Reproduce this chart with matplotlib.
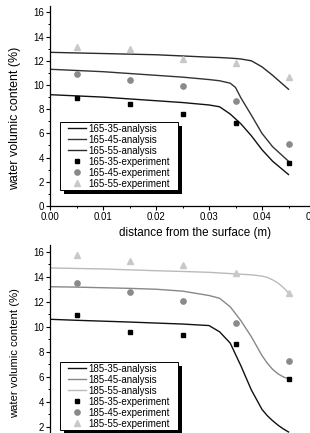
import matplotlib
matplotlib.use("Agg")
import matplotlib.pyplot as plt
from matplotlib.ticker import MultipleLocator
from matplotlib.patches import Rectangle

plt.rcParams['font.family'] = ['Liberation Sans', 'DejaVu Sans']

# ---------------- data: top panel (165) ----------------
x_exp = [0.005, 0.015, 0.025, 0.035, 0.045]
exp_165_35 = [8.95, 8.40, 7.63, 6.83, 3.58]
exp_165_45 = [10.94, 10.39, 9.89, 8.65, 5.10]
exp_165_55 = [13.10, 12.95, 12.15, 11.80, 10.63]

x_ana = [0.0, 0.005, 0.01, 0.015, 0.02, 0.025, 0.03, 0.032, 0.034, 0.035,
         0.036, 0.038, 0.040, 0.042, 0.045]
ana_165_35 = [9.20, 9.10, 9.00, 8.85, 8.70, 8.55, 8.35, 8.20, 7.60, 7.20,
              6.80, 5.80, 4.65, 3.70, 2.60]
ana_165_45 = [11.30, 11.20, 11.10, 10.95, 10.80, 10.65, 10.45, 10.35, 10.15, 9.80,
              8.95, 7.50, 6.00, 4.90, 3.70]
ana_165_55 = [12.70, 12.65, 12.60, 12.55, 12.50, 12.40, 12.30, 12.27, 12.22, 12.19,
              12.15, 12.00, 11.50, 10.80, 9.65]

# ---------------- data: bottom panel (185) ----------------
exp_185_35 = [10.94, 9.56, 9.37, 8.63, 5.80]
exp_185_45 = [13.50, 12.76, 12.09, 10.28, 7.27]
exp_185_55 = [15.74, 15.28, 14.94, 14.32, 12.73]

x_ana2 = [0.0, 0.005, 0.01, 0.015, 0.02, 0.025, 0.03, 0.032, 0.034, 0.036,
          0.038, 0.040, 0.041, 0.042, 0.043, 0.044, 0.045]
ana_185_35 = [10.60, 10.52, 10.45, 10.38, 10.30, 10.22, 10.10, 9.60, 8.70, 6.90,
              4.95, 3.40, 2.90, 2.50, 2.15, 1.85, 1.60]
ana_185_45 = [13.20, 13.17, 13.12, 13.07, 13.00, 12.85, 12.50, 12.28, 11.60, 10.50,
              9.20, 7.70, 7.10, 6.60, 6.25, 6.00, 5.85]
ana_185_55 = [14.70, 14.66, 14.62, 14.55, 14.48, 14.42, 14.35, 14.30, 14.25, 14.20,
              14.15, 14.05, 13.95, 13.75, 13.50, 13.15, 12.70]

xticks = [0.00, 0.01, 0.02, 0.03, 0.04, 0.05]
xticklabels = ['0.00', '0.01', '0.02', '0.03', '0.04', '0.05']
yticks = [0, 2, 4, 6, 8, 10, 12, 14, 16]

W, H = 310, 433
fig = plt.figure(figsize=(W / 100, H / 100), dpi=100)


def fx(px):
    return px / W


def fy(py):
    return 1 - py / H


def make_axes(left_px, bottom_px, top_px):
    ax = fig.add_axes([left_px / W, (H - bottom_px) / H, 265 / W,
                       (bottom_px - top_px) / H])
    ax.set_xlim(0, 0.05)
    ax.set_ylim(0, 16.5)
    for s in ['top', 'right']:
        ax.spines[s].set_visible(False)
    for s in ['left', 'bottom']:
        ax.spines[s].set_linewidth(0.9)
    ax.set_xticks(xticks)
    ax.set_xticklabels(xticklabels)
    ax.set_yticks(yticks)
    ax.xaxis.set_minor_locator(MultipleLocator(0.005))
    ax.yaxis.set_minor_locator(MultipleLocator(1))
    ax.tick_params(which='major', direction='out', length=3, width=0.8,
                   labelsize=7, pad=1.5)
    ax.tick_params(which='minor', direction='out', length=1.6, width=0.7)
    ax.patch.set_alpha(0)
    return ax


def legend(ax, frame_top_px):
    # frame + shadow drawn by hand (Origin-style)
    x0, x1 = 59.5, 177.7
    y0, y1 = frame_top_px, frame_top_px + 67.8
    shadow = Rectangle((fx(x0 + 4), fy(y1 + 4)), fx(x1 - x0), (y1 - y0) / H,
                       transform=fig.transFigure, facecolor='black',
                       edgecolor='none', zorder=4.4, clip_on=False)
    frame = Rectangle((fx(x0), fy(y1)), fx(x1 - x0), (y1 - y0) / H,
                      transform=fig.transFigure, facecolor='white',
                      edgecolor='black', lw=0.7, zorder=4.5, clip_on=False)
    ax.add_patch(shadow)
    ax.add_patch(frame)
    leg = ax.legend(loc='upper left',
                    bbox_to_anchor=(fx(68.3), fy(frame_top_px + 2.0)),
                    bbox_transform=fig.transFigure, borderaxespad=0,
                    fontsize=7, frameon=False,
                    handlelength=1.86, handletextpad=0.15, labelspacing=0.1,
                    borderpad=0, numpoints=1)
    leg.set_zorder(5)
    return leg


# ---------------- top panel ----------------
ax1 = make_axes(50, 206, 206 - 16.5 * 12.1)
ax1.plot(x_ana, ana_165_35, color='#111111', lw=1.0, label='165-35-analysis')
ax1.plot(x_ana, ana_165_45, color='#333333', lw=1.0, label='165-45-analysis')
ax1.plot(x_ana, ana_165_55, color='#2a2a2a', lw=1.0, label='165-55-analysis')
ax1.plot(x_exp, exp_165_35, ls='none', marker='s', ms=3.4, color='black',
         label='165-35-experiment')
ax1.plot(x_exp, exp_165_45, ls='none', marker='o', ms=3.8, color='#8a8a8a',
         label='165-45-experiment')
ax1.plot(x_exp, exp_165_55, ls='none', marker='^', ms=4.5, color='#c8c8c8',
         label='165-55-experiment')
ax1.set_xlabel('distance from the surface (m)', fontsize=8.4)
ax1.xaxis.set_label_coords((195.3 - 50) / 265, (206 - 233) / (16.5 * 12.1))
ax1.xaxis.label.set_va('center')
ax1.set_ylabel('water volumic content (%)', fontsize=8.9)
ax1.yaxis.set_label_coords((15 - 50) / 265, (206 - 118.5) / (16.5 * 12.1))
ax1.yaxis.label.set_va('center')
legend(ax1, 121.7)

# ---------------- bottom panel ----------------
ax2 = make_axes(50, 452, 452 - 16.5 * 12.52)
ax2.plot(x_ana2, ana_185_35, color='#111111', lw=1.0, label='185-35-analysis')
ax2.plot(x_ana2, ana_185_45, color='#888888', lw=1.0, label='185-45-analysis')
ax2.plot(x_ana2, ana_185_55, color='#bbbbbb', lw=1.0, label='185-55-analysis')
ax2.plot(x_exp, exp_185_35, ls='none', marker='s', ms=3.4, color='black',
         label='185-35-experiment')
ax2.plot(x_exp, exp_185_45, ls='none', marker='o', ms=3.8, color='#8a8a8a',
         label='185-45-experiment')
ax2.plot(x_exp, exp_185_55, ls='none', marker='^', ms=4.5, color='#c8c8c8',
         label='185-55-experiment')
ax2.set_ylabel('water volumic content (%)', fontsize=8.1)
ax2.yaxis.set_label_coords((15 - 50) / 265, (452 - 353) / (16.5 * 12.52))
ax2.yaxis.label.set_va('center')
legend(ax2, 361.7)

fig.savefig('out.png', dpi=100)
